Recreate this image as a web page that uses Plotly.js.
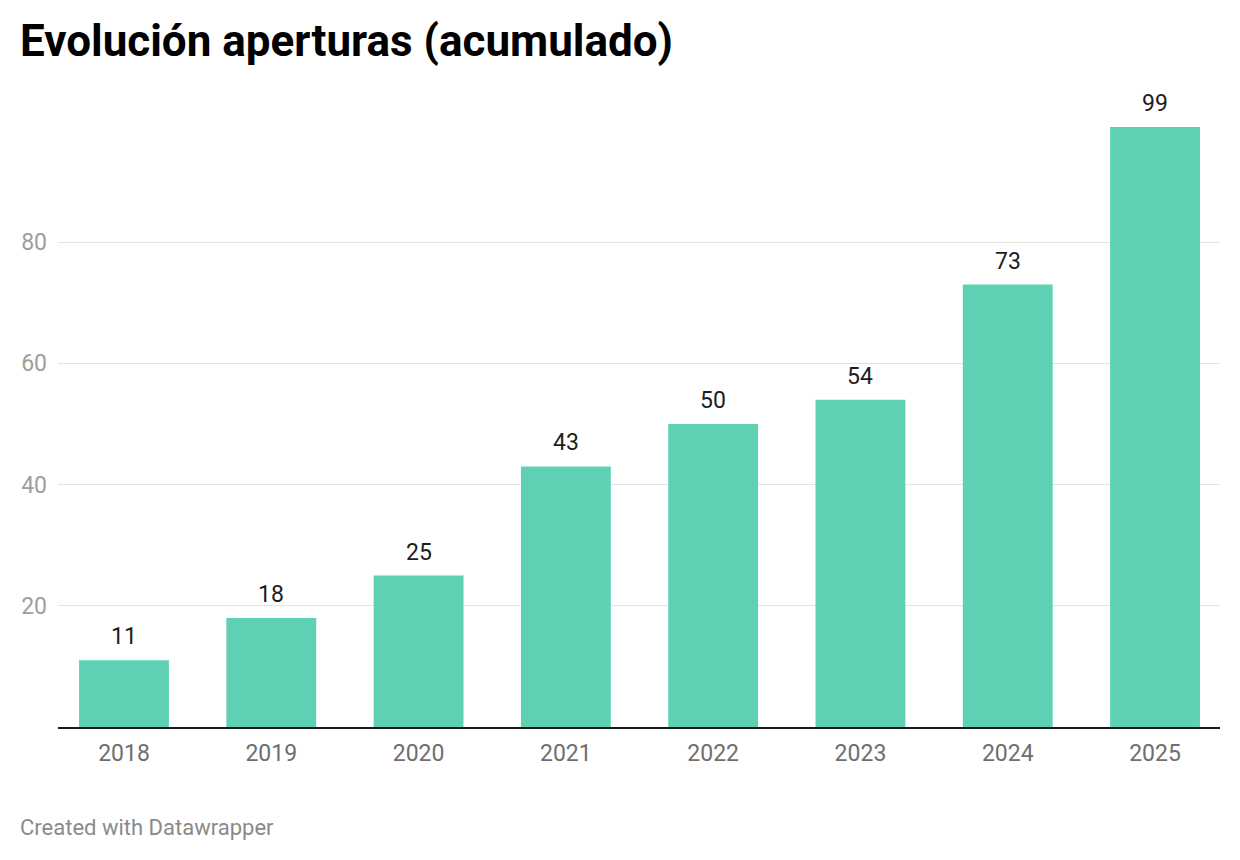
<!DOCTYPE html>
<html>
<head>
<meta charset="utf-8">
<script src="https://cdn.plot.ly/plotly-3.0.1.min.js"></script>
<style>
html,body{margin:0;padding:0;background:#fff;}
#chart{width:1240px;height:860px;}
</style>
</head>
<body>
<div id="chart"></div>
<script>
const years = ['2018','2019','2020','2021','2022','2023','2024','2025'];
const aperturas = [11, 18, 25, 43, 50, 54, 73, 99];
const yTicks = [20, 40, 60, 80];

const FONT = 'Roboto, "Noto Sans", sans-serif';

const trace = {
  type: 'bar',
  x: years,
  y: aperturas,
  width: 0.61,
  marker: {color: '#5ed1b4'},
  hoverinfo: 'x+y'
};

const labels = years.map((yr, i) => ({
  x: i, y: aperturas[i], xref: 'x', yref: 'y',
  text: String(aperturas[i]),
  showarrow: false, yanchor: 'bottom', yshift: 8,
  font: {family: FONT, size: 23, color: '#1d1d1d'}
}));

labels.push({
  text: 'Created with Datawrapper',
  xref: 'paper', yref: 'paper',
  x: (18 - 58) / 1162, y: (727 - 827) / 606,
  xanchor: 'left', yanchor: 'middle', showarrow: false,
  font: {family: FONT, size: 22, color: '#8a8a8a'}
});

const layout = {
  width: 1240, height: 860,
  margin: {l: 58, r: 20, t: 121, b: 133},
  paper_bgcolor: '#fff', plot_bgcolor: '#fff',
  showlegend: false,
  title: {
    text: '<b>Evolución aperturas (acumulado)</b>',
    x: 20 / 1240, xanchor: 'left', xref: 'container',
    y: 1 - 41 / 860, yanchor: 'middle', yref: 'container',
    font: {family: FONT, size: 44, color: '#000'}
  },
  xaxis: {
    type: 'category',
    range: [-0.448, 7.441],
    showgrid: false, zeroline: false,
    showline: true, linecolor: '#1a1a1a', linewidth: 2,
    ticks: '',
    tickfont: {family: FONT, size: 23, color: '#6e6e6e'},
    ticklabelstandoff: 4,
    fixedrange: true
  },
  yaxis: {
    range: [0, 100],
    tickvals: yTicks,
    ticktext: yTicks.map(String),
    showgrid: true, gridcolor: '#e3e3e3', gridwidth: 1,
    zeroline: false, showline: false,
    ticks: '',
    tickfont: {family: FONT, size: 23, color: '#9e9e9e'},
    ticklabelstandoff: 10,
    fixedrange: true
  },
  annotations: labels
};

Plotly.newPlot('chart', [trace], layout, {displayModeBar: false, staticPlot: true});
</script>
</body>
</html>
